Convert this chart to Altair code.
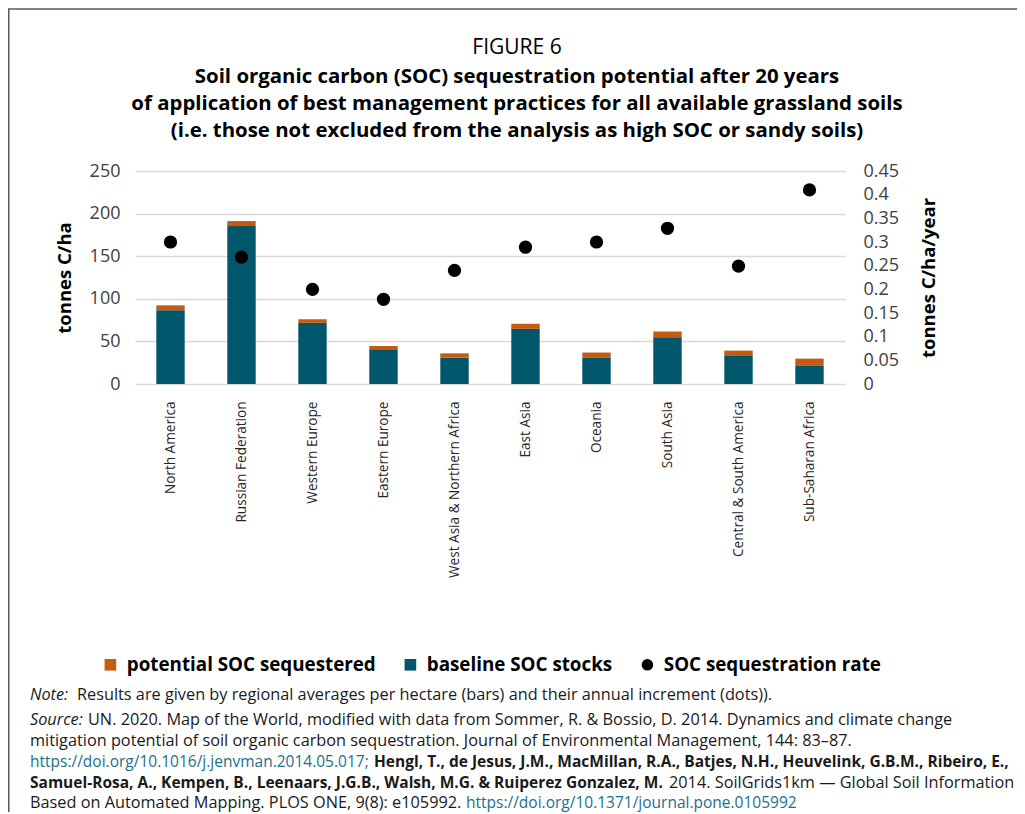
import altair as alt
import pandas as pd

# ---------------- data ----------------
regions = [
    "North America", "Russian Federation", "Western Europe", "Eastern Europe",
    "West Asia & Northern Africa", "East Asia", "Oceania", "South Asia",
    "Central & South America", "Sub-Saharan Africa",
]
baseline = [86.5, 185.3, 71.8, 40.8, 31.0, 64.8, 30.6, 54.9, 33.7, 21.2]
potential = [5.8, 5.9, 4.2, 3.9, 5.0, 5.9, 6.3, 6.7, 5.5, 8.6]
rate = [0.30, 0.268, 0.20, 0.179, 0.24, 0.289, 0.30, 0.329, 0.249, 0.41]

series_names = ["potential SOC sequestered", "baseline SOC stocks", "SOC sequestration rate"]
series_colors = ["#C55A11", "#00576C", "#000000"]
series_shapes = ["square", "square", "circle"]

left_ticks = [0, 50, 100, 150, 200, 250]
right_ticks = [0, 0.05, 0.1, 0.15, 0.2, 0.25, 0.3, 0.35, 0.4, 0.45]

title_top = "FIGURE 6"
title_lines = [
    "Soil organic carbon (SOC) sequestration potential after 20 years",
    "of application of best management practices for all available grassland soils",
    "(i.e. those not excluded from the analysis as high SOC or sandy soils)",
]
note_label = "Note:"
note_text = "Results are given by regional averages per hectare (bars) and their annual increment (dots))."
source_label = "Source:"
source_l1 = "UN. 2020. Map of the World, modified with data from Sommer, R. & Bossio, D. 2014. Dynamics and climate change"
source_l2 = "mitigation potential of soil organic carbon sequestration. Journal of Environmental Management, 144: 83\u201387."
source_url1 = "https://doi.org/10.1016/j.jenvman.2014.05.017;"
source_authors1 = "Hengl, T., de Jesus, J.M., MacMillan, R.A., Batjes, N.H., Heuvelink, G.B.M., Ribeiro, E.,"
source_authors2 = "Samuel-Rosa, A., Kempen, B., Leenaars, J.G.B., Walsh, M.G. & Ruiperez Gonzalez, M."
source_l4_rest = "2014. SoilGrids1km \u2014 Global Soil Information"
source_l5 = "Based on Automated Mapping. PLOS ONE, 9(8): e105992."
source_url2 = "https://doi.org/10.1371/journal.pone.0105992"

# ---------------- tables ----------------
bars_df = pd.DataFrame({
    "region": regions * 2,
    "series": [series_names[1]] * len(regions) + [series_names[0]] * len(regions),
    "value": baseline + potential,
    "order": [0] * len(regions) + [1] * len(regions),
})
rate_df = pd.DataFrame({"region": regions, "rate": rate, "series": [series_names[2]] * len(regions)})

W, H = 710, 213
PAD_L, PAD_T = 127, 163
SVG_W, SVG_H = 1009, 804
OX, OY = 135, 171  # page position of the plot origin

AX_FONT = "Open Sans"
TXT_FONT = "Open Sans"
LINK = "#1F6E8C"


def text_at(txt, px, py, size, weight="normal", style="normal", color="#1a1a1a", align="left"):
    """A text annotation placed at page pixel (px, py)."""
    return alt.Chart(pd.DataFrame({"t": [txt]})).mark_text(
        align=align, baseline="middle", font=TXT_FONT, fontSize=size,
        fontWeight=weight, fontStyle=style, color=color,
    ).encode(x=alt.value(px - OX), y=alt.value(py - OY), text="t:N")


legend = alt.Legend(
    title=None, orient="none", legendX=-34, legendY=484, direction="horizontal",
    labelFont=AX_FONT, labelFontSize=18.8, labelFontWeight="bold", labelColor="#000000",
    labelLimit=400, columnPadding=25, labelOffset=7, symbolSize=135, symbolStrokeWidth=0,
)
color_scale = alt.Scale(domain=series_names, range=series_colors)

x_enc = alt.X(
    "region:N", sort=regions,
    scale=alt.Scale(paddingInner=0.6, paddingOuter=0.3),
    axis=alt.Axis(
        title=None, labelAngle=270, labelAlign="right", labelBaseline="middle",
        labelPadding=17, labelFontSize=13.6, labelFont=AX_FONT, labelColor="#262626",
        domain=False, ticks=False, labelLimit=400,
    ),
)

bars = alt.Chart(bars_df).mark_bar().encode(
    x=x_enc,
    y=alt.Y(
        "value:Q", stack="zero",
        scale=alt.Scale(domain=[0, 250], nice=False),
        axis=alt.Axis(
            title="tonnes C/ha", values=left_ticks, orient="left",
            labelFont=AX_FONT, labelFontSize=18, labelColor="#404040", labelPadding=15,
            domain=False, ticks=False, grid=True, gridColor="#D9D9D9", gridWidth=1.5,
            titleFont=AX_FONT, titleFontSize=18.5, titleFontWeight="bold", titleColor="#000000",
            titlePadding=15,
        ),
    ),
    color=alt.Color("series:N", scale=color_scale, legend=legend),
    order=alt.Order("order:Q", sort="ascending"),
)

points = alt.Chart(rate_df).mark_point(filled=True, opacity=1, size=175).encode(
    x=alt.X("region:N", sort=regions),
    y=alt.Y(
        "rate:Q",
        scale=alt.Scale(domain=[0, 0.45], nice=False),
        axis=alt.Axis(
            title="tonnes C/ha/year", values=right_ticks, orient="right", format=".2~f",
            labelFont=AX_FONT, labelFontSize=18, labelColor="#404040", labelPadding=18,
            domain=False, ticks=False, grid=False,
            titleFont=AX_FONT, titleFontSize=18.5, titleFontWeight="bold", titleColor="#000000",
            titlePadding=40, titleAngle=270,
        ),
    ),
    color=alt.Color("series:N", scale=color_scale, legend=legend),
    shape=alt.Shape("series:N", scale=alt.Scale(domain=series_names, range=series_shapes), legend=legend),
)

REG = 16.3
BOLD = 15.5
URL = 15.5
texts = [
    text_at(title_top, 517, 48, 21, color="#000000", align="center"),
    text_at(title_lines[0], 517, 77, 20.4, weight="bold", color="#000000", align="center"),
    text_at(title_lines[1], 517, 104, 20.4, weight="bold", color="#000000", align="center"),
    text_at(title_lines[2], 517, 131, 20.4, weight="bold", color="#000000", align="center"),
    text_at(note_label, 30, 695, REG, style="italic"),
    text_at(note_text, 77, 695, REG),
    text_at(source_label, 30, 720, REG, style="italic"),
    text_at(source_l1, 88, 720, REG),
    text_at(source_l2, 30, 741, REG),
    text_at(source_url1, 30, 762, URL, color=LINK),
    text_at(source_authors1, 374, 762, BOLD, weight="bold"),
    text_at(source_authors2, 30, 783, BOLD, weight="bold"),
    text_at(source_l4_rest, 669, 783, REG),
    text_at(source_l5, 30, 803, REG),
    text_at(source_url2, 466, 803, URL, color=LINK),
]

frame_top = alt.Chart(pd.DataFrame({"k": [0]})).mark_rule(color="#595959", strokeWidth=1.5).encode(
    x=alt.value(-PAD_L), x2=alt.value(SVG_W - PAD_L), y=alt.value(-PAD_T + 1)
)
frame_left = alt.Chart(pd.DataFrame({"k": [0]})).mark_rule(color="#595959", strokeWidth=1.5).encode(
    x=alt.value(-PAD_L + 0.75), y=alt.value(-PAD_T + 1), y2=alt.value(SVG_H - PAD_T)
)

chart = alt.layer(bars, points, *texts, frame_top, frame_left).resolve_scale(
    y="independent"
).properties(
    width=W, height=H,
    autosize=alt.AutoSizeParams(type="none"),
    padding={"left": PAD_L, "top": PAD_T, "right": SVG_W - PAD_L - W, "bottom": SVG_H - PAD_T - H},
).configure_view(stroke=None)

chart.save("out.html", embed_options={"renderer": "svg", "actions": False})
